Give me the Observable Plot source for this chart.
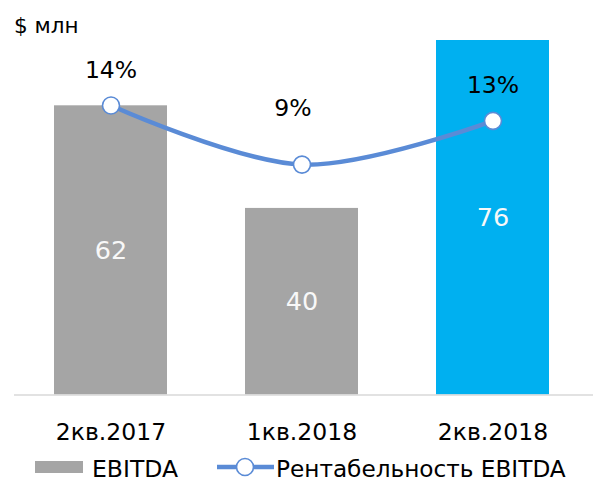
<!DOCTYPE html>
<html><head><meta charset="utf-8">
<script src="https://cdn.jsdelivr.net/npm/d3@7"></script>
<script src="https://cdn.jsdelivr.net/npm/@observablehq/plot@0.6"></script>
<style>
body{margin:0;background:#fff;font-family:"DejaVu Sans",sans-serif;}
#wrap{position:relative;width:593px;height:483px;overflow:hidden;}
#title{position:absolute;left:14px;top:15px;font-size:21.5px;line-height:21.5px;color:#000;white-space:nowrap;}
#chart{position:absolute;left:0;top:38px;}
#legend{position:absolute;left:0;top:450px;}
</style></head><body>
<div id="wrap">
  <div id="title">$ млн</div>
  <div id="chart"></div>
  <div id="legend"></div>
</div>
<script>
// ---- data ----
const categories = ["2кв.2017", "1кв.2018", "2кв.2018"];
const ebitda = [62, 40, 76];            // $ млн
const margin = [0.14, 0.09, 0.127];     // Рентабельность EBITDA
const highlight = "2кв.2018";
const yDomain = [0, 76];
const marginAxis = [-0.105, 0.195];     // secondary axis extent
const seriesNames = ["EBITDA", "Рентабельность EBITDA"];

const GRAY = "#A5A5A5", BLUE = "#00B0F0", LINE = "#5A8BD6";
const data = categories.map((c, i) => ({category: c, ebitda: ebitda[i], margin: margin[i]}));
const y2 = d3.scaleLinear().domain(marginAxis).range(yDomain);
const pct = d3.format(".0%");

const chart = Plot.plot({
  width: 593, height: 412,
  marginLeft: 14, marginRight: 0, marginTop: 2, marginBottom: 55.5,
  x: {domain: categories, range: [14, 588], paddingInner: 0.41, paddingOuter: 0.205, align: 0.5, axis: null, label: null},
  y: {domain: yDomain, axis: null, label: null},
  color: {type: "identity"},
  style: {fontFamily: "DejaVu Sans", color: "#000", background: "transparent", overflow: "visible"},
  marks: [
    Plot.barY(data, {x: "category", y: "ebitda", fill: d => d.category === highlight ? BLUE : GRAY}),
    Plot.ruleY([0], {stroke: "#D9D9D9", strokeWidth: 1.3}),
    Plot.axisX({tickSize: 0, tickPadding: 28, fontSize: 23.5, fill: "#000", label: null}),
    Plot.text(data, {x: "category", y: d => d.ebitda / 2, text: d => String(d.ebitda), fill: "#F8F8F8", fontSize: 25.5}),
    Plot.line(data, {x: "category", y: d => y2(d.margin), stroke: LINE, strokeWidth: 4.5, curve: "catmull-rom"}),
    Plot.dot(data, {x: "category", y: d => y2(d.margin), r: 8.5, fill: "#fff", stroke: LINE, strokeWidth: 1.6}),
    Plot.text(data, {filter: (d, i) => i !== 1, x: "category", y: d => y2(d.margin), text: d => pct(d.margin), dy: -35, fontSize: 23.5, fill: "#000"}),
    Plot.text(data, {filter: (d, i) => i === 1, x: "category", y: d => y2(d.margin), text: d => pct(d.margin), dy: -56, dx: -9, fontSize: 23.5, fill: "#000"})
  ]
});
document.getElementById("chart").appendChild(chart);

// ---- legend ----
const ns = "http://www.w3.org/2000/svg";
const lg = document.createElementNS(ns, "svg");
lg.setAttribute("width", 593); lg.setAttribute("height", 33);
lg.style.fontFamily = "DejaVu Sans";
function el(tag, attrs, txt) {
  const e = document.createElementNS(ns, tag);
  for (const k in attrs) e.setAttribute(k, attrs[k]);
  if (txt) e.textContent = txt;
  lg.appendChild(e); return e;
}
el("rect", {x: 35, y: 11, width: 48, height: 12, fill: GRAY});
el("text", {x: 92, y: 27, "font-size": 23.5, fill: "#000"}, seriesNames[0]);
el("line", {x1: 217, x2: 274, y1: 17, y2: 17, stroke: LINE, "stroke-width": 4.5});
el("circle", {cx: 245, cy: 17, r: 8.5, fill: "#fff", stroke: LINE, "stroke-width": 1.6});
el("text", {x: 276, y: 27, "font-size": 23.2, fill: "#000"}, seriesNames[1]);
document.getElementById("legend").appendChild(lg);
</script>
</body></html>
